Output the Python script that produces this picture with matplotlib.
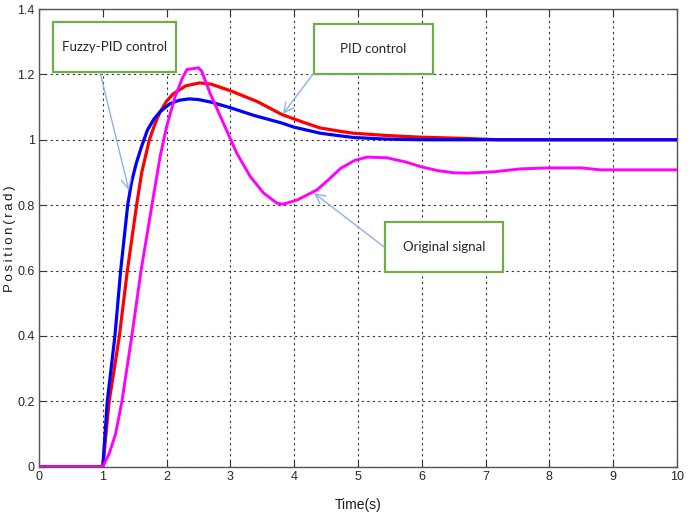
import numpy as np
import matplotlib
matplotlib.use("Agg")
import matplotlib.pyplot as plt
from matplotlib.patches import Rectangle
from matplotlib import font_manager

# ---- data ----
t_fuzzy = [0, 1.0, 1.07, 1.19, 1.28, 1.39, 1.45, 1.52, 1.6, 1.7, 1.8, 1.9, 2.05, 2.2, 2.35, 2.5, 2.7, 2.84, 3.0, 3.36, 3.81, 3.99, 4.41, 4.72, 4.93, 5.45, 6.0, 7.0, 8.0, 9.0, 10.0]
y_fuzzy = [0, 0, 0.2, 0.4, 0.6, 0.8, 0.87, 0.925, 0.975, 1.03, 1.063, 1.086, 1.11, 1.121, 1.125, 1.123, 1.115, 1.107, 1.098, 1.075, 1.051, 1.039, 1.02, 1.012, 1.007, 1.002, 1.0, 1.0, 1.0, 1.0, 1.0]

t_pid = [0, 1.0, 1.10, 1.26, 1.385, 1.53, 1.61, 1.73, 1.82, 1.9, 2.0, 2.1, 2.3, 2.52, 2.7, 3.0, 3.42, 3.81, 4.15, 4.41, 4.72, 4.93, 5.45, 5.97, 6.7, 7.2, 8.0, 9.0, 10.0]
y_pid = [0, 0, 0.2, 0.4, 0.6, 0.8, 0.9, 1.0, 1.05, 1.086, 1.118, 1.14, 1.165, 1.174, 1.17, 1.15, 1.117, 1.077, 1.053, 1.036, 1.026, 1.02, 1.013, 1.008, 1.004, 1.0, 1.0, 1.0, 1.0]

t_orig = [0, 1.0, 1.1, 1.2, 1.3, 1.455, 1.6, 1.77, 1.9, 2.0, 2.13, 2.25, 2.32, 2.5, 2.55, 2.68, 2.89, 3.10, 3.31, 3.52, 3.73, 3.83, 4.05, 4.36, 4.55, 4.73, 4.95, 5.14, 5.45, 5.75, 5.98, 6.24, 6.5, 6.71, 7.13, 7.55, 8.0, 8.5, 8.8, 9.5, 10.0]
y_orig = [0, 0, 0.04, 0.1, 0.2, 0.4, 0.6, 0.8, 0.95, 1.04, 1.13, 1.19, 1.215, 1.22, 1.21, 1.143, 1.051, 0.959, 0.888, 0.837, 0.806, 0.803, 0.816, 0.847, 0.88, 0.913, 0.937, 0.947, 0.945, 0.932, 0.918, 0.906, 0.899, 0.898, 0.902, 0.911, 0.914, 0.914, 0.908, 0.908, 0.908]

x_ticks = [0, 1, 2, 3, 4, 5, 6, 7, 8, 9, 10]
y_ticks = [0, 0.2, 0.4, 0.6, 0.8, 1.0, 1.2, 1.4]
y_tick_labels = ["0", "0.2", "0.4", "0.6", "0.8", "1", "1.2", "1.4"]

labels = ["Fuzzy-PID control", "PID control", "Original signal"]

names = {f.name for f in font_manager.fontManager.ttflist}
if "Liberation Sans Narrow" in names:
    tick_family = ["Liberation Sans Narrow", "DejaVu Sans"]
else:
    tick_family = ["Liberation Sans", "DejaVu Sans"]
box_font = [f for f in ["Lato", "Open Sans", "DejaVu Sans"] if f in names] or ["DejaVu Sans"]

fig = plt.figure(figsize=(6.95, 5.18), dpi=100)
ax = fig.add_axes([39 / 695, (518 - 466.7) / 518, (677 - 39) / 695, (466.7 - 9) / 518])

ax.plot(t_pid, y_pid, color="#ff0000", lw=2.3, zorder=3, solid_joinstyle="round")
ax.plot(t_fuzzy, y_fuzzy, color="#0000ff", lw=2.3, zorder=4, solid_joinstyle="round")
ax.plot(t_orig, y_orig, color="#ff00ff", lw=2.1, zorder=5, solid_joinstyle="round")

ax.set_xlim(0, 10)
ax.set_ylim(0, 1.4)
ax.set_xticks(x_ticks)
ax.set_yticks(y_ticks)
ax.set_yticklabels(y_tick_labels)
ax.grid(True, color="#333333", linestyle=(0, (2, 3)), lw=0.8)
ax.tick_params(direction="in", length=5, width=0.8, top=True, right=True,
               colors="#333333", labelsize=9, labelcolor="#262626", pad=3)
for lab in ax.get_xticklabels() + ax.get_yticklabels():
    lab.set_family(tick_family)
for s in ax.spines.values():
    s.set_color("#555555")
    s.set_linewidth(1.0)

fig.text(358 / 695, 1 - 505 / 518, "Time(s)", ha="center", va="center",
         fontsize=10, color="#1a1a1a", family=tick_family)
ylab = "\u2009".join("Position(rad)")
fig.text(10 / 695, 1 - 239 / 518, ylab, ha="center", va="center",
         rotation=90, fontsize=9.5, color="#1a1a1a", family=tick_family)

boxes = [
    (0.215, 2.143, 1.208, 1.359),
    (4.315, 6.171, 1.200, 1.353),
    (5.423, 7.273, 0.596, 0.749),
]
arrows = [
    ((0.956, 1.207), (1.41, 0.845)),
    ((4.295, 1.201), (3.824, 1.079)),
    ((5.41, 0.672), (4.31, 0.837)),
]
for (x0, x1, y0, y1), lab in zip(boxes, labels):
    ax.add_patch(Rectangle((x0, y0), x1 - x0, y1 - y0, facecolor="white",
                           edgecolor="#70ad47", lw=1.6, zorder=6))
    ax.text((x0 + x1) / 2, (y0 + y1) / 2, lab, ha="center", va="center",
            fontsize=9.5, family=box_font, color="#262626", zorder=7)
for start, end in arrows:
    ax.annotate("", xy=end, xytext=start,
                arrowprops=dict(arrowstyle="->,head_length=0.7,head_width=0.35",
                                color="#8db3e2", lw=1.0, shrinkA=0, shrinkB=0),
                zorder=8)

fig.savefig("out.png", dpi=100, facecolor="white")
